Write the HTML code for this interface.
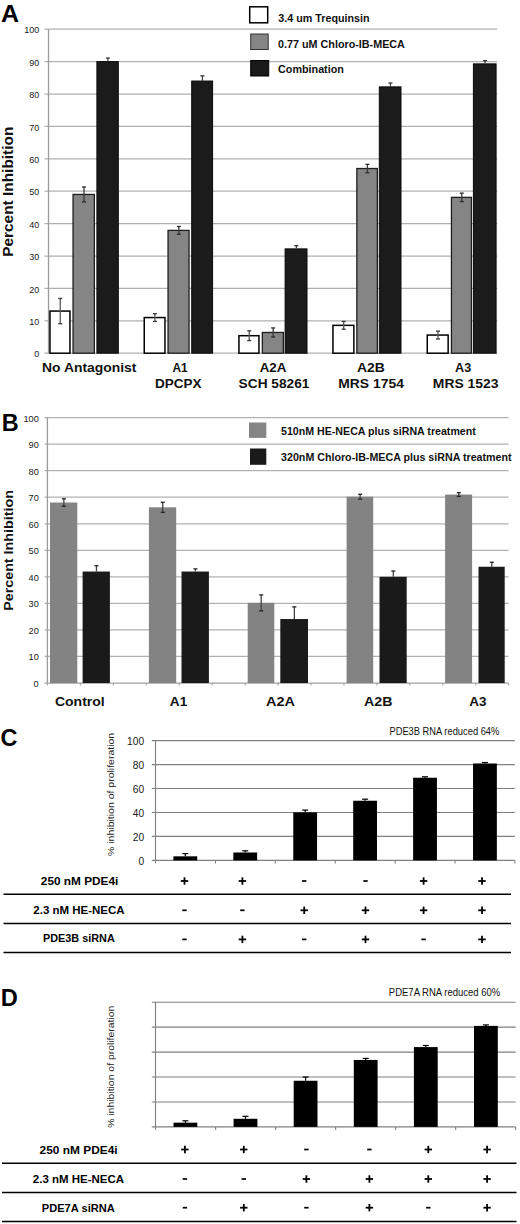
<!DOCTYPE html>
<html><head><meta charset="utf-8"><style>
html,body{margin:0;padding:0;background:#fff;}
body{width:520px;height:1224px;overflow:hidden;}
svg{display:block;font-family:"Liberation Sans", sans-serif;}
</style></head><body>
<svg width="520" height="1224" viewBox="0 0 520 1224">
<rect width="520" height="1224" fill="#fff"/>
<text x="0.98" y="21.60" font-size="24.2" font-weight="bold" text-anchor="start" fill="#000" textLength="18.08" lengthAdjust="spacingAndGlyphs">A</text>
<line x1="44.50" y1="353.20" x2="497.20" y2="353.20" stroke="#b0b0b0" stroke-width="1.25"/>
<text x="34.35" y="357.30" font-size="9.7" font-weight="normal" text-anchor="start" fill="#222" textLength="5.01" lengthAdjust="spacingAndGlyphs">0</text>
<line x1="44.50" y1="320.80" x2="497.20" y2="320.80" stroke="#b0b0b0" stroke-width="1.25"/>
<text x="29.34" y="324.90" font-size="9.7" font-weight="normal" text-anchor="start" fill="#222" textLength="10.01" lengthAdjust="spacingAndGlyphs">10</text>
<line x1="44.50" y1="288.40" x2="497.20" y2="288.40" stroke="#b0b0b0" stroke-width="1.25"/>
<text x="29.34" y="292.50" font-size="9.7" font-weight="normal" text-anchor="start" fill="#222" textLength="10.01" lengthAdjust="spacingAndGlyphs">20</text>
<line x1="44.50" y1="256.00" x2="497.20" y2="256.00" stroke="#b0b0b0" stroke-width="1.25"/>
<text x="29.34" y="260.10" font-size="9.7" font-weight="normal" text-anchor="start" fill="#222" textLength="10.01" lengthAdjust="spacingAndGlyphs">30</text>
<line x1="44.50" y1="223.60" x2="497.20" y2="223.60" stroke="#b0b0b0" stroke-width="1.25"/>
<text x="29.34" y="227.70" font-size="9.7" font-weight="normal" text-anchor="start" fill="#222" textLength="10.01" lengthAdjust="spacingAndGlyphs">40</text>
<line x1="44.50" y1="191.20" x2="497.20" y2="191.20" stroke="#b0b0b0" stroke-width="1.25"/>
<text x="29.34" y="195.30" font-size="9.7" font-weight="normal" text-anchor="start" fill="#222" textLength="10.01" lengthAdjust="spacingAndGlyphs">50</text>
<line x1="44.50" y1="158.80" x2="497.20" y2="158.80" stroke="#b0b0b0" stroke-width="1.25"/>
<text x="29.34" y="162.90" font-size="9.7" font-weight="normal" text-anchor="start" fill="#222" textLength="10.01" lengthAdjust="spacingAndGlyphs">60</text>
<line x1="44.50" y1="126.40" x2="497.20" y2="126.40" stroke="#b0b0b0" stroke-width="1.25"/>
<text x="29.34" y="130.50" font-size="9.7" font-weight="normal" text-anchor="start" fill="#222" textLength="10.01" lengthAdjust="spacingAndGlyphs">70</text>
<line x1="44.50" y1="94.00" x2="497.20" y2="94.00" stroke="#b0b0b0" stroke-width="1.25"/>
<text x="29.34" y="98.10" font-size="9.7" font-weight="normal" text-anchor="start" fill="#222" textLength="10.01" lengthAdjust="spacingAndGlyphs">80</text>
<line x1="44.50" y1="61.60" x2="497.20" y2="61.60" stroke="#b0b0b0" stroke-width="1.25"/>
<text x="29.34" y="65.70" font-size="9.7" font-weight="normal" text-anchor="start" fill="#222" textLength="10.01" lengthAdjust="spacingAndGlyphs">90</text>
<line x1="44.50" y1="29.20" x2="497.20" y2="29.20" stroke="#b0b0b0" stroke-width="1.25"/>
<text x="24.34" y="33.30" font-size="9.7" font-weight="normal" text-anchor="start" fill="#222" textLength="15.02" lengthAdjust="spacingAndGlyphs">100</text>
<line x1="48.50" y1="29.20" x2="48.50" y2="353.20" stroke="#9c9c9c" stroke-width="1.3"/>
<rect x="249.70" y="6.80" width="18.00" height="16.00" fill="#fff" stroke="#000" stroke-width="1.5"/>
<rect x="250.70" y="34.00" width="17.50" height="15.50" fill="#858585" stroke="#333" stroke-width="1"/>
<rect x="250.70" y="60.50" width="18.00" height="15.50" fill="#1a1a1a" stroke="#000" stroke-width="1"/>
<text x="278.26" y="21.80" font-size="10.3" font-weight="bold" text-anchor="start" fill="#111" textLength="91.31" lengthAdjust="spacingAndGlyphs">3.4 um Trequinsin</text>
<text x="278.07" y="48.10" font-size="10.3" font-weight="bold" text-anchor="start" fill="#111" textLength="126.81" lengthAdjust="spacingAndGlyphs">0.77 uM Chloro-IB-MECA</text>
<text x="278.06" y="72.90" font-size="10.3" font-weight="bold" text-anchor="start" fill="#111" textLength="65.81" lengthAdjust="spacingAndGlyphs">Combination</text>
<rect x="49.95" y="311.08" width="20.00" height="42.12" fill="#fff" stroke="#000" stroke-width="1.5"/>
<rect x="73.05" y="194.44" width="21.30" height="158.76" fill="#858585" stroke="#1e1e1e" stroke-width="1.3"/>
<rect x="96.90" y="61.60" width="21.40" height="291.60" fill="#1b1b1b" stroke="#0a0a0a" stroke-width="1.0"/>
<line x1="60.25" y1="298.44" x2="60.25" y2="323.72" stroke="#5a5a5a" stroke-width="1.3"/>
<line x1="58.25" y1="298.44" x2="62.25" y2="298.44" stroke="#333" stroke-width="1.3"/>
<line x1="58.25" y1="323.72" x2="62.25" y2="323.72" stroke="#333" stroke-width="1.3"/>
<line x1="84.00" y1="186.99" x2="84.00" y2="201.89" stroke="#3a3a3a" stroke-width="1.3"/>
<line x1="82.00" y1="186.99" x2="86.00" y2="186.99" stroke="#2a2a2a" stroke-width="1.3"/>
<line x1="82.00" y1="201.89" x2="86.00" y2="201.89" stroke="#2a2a2a" stroke-width="1.3"/>
<line x1="107.90" y1="58.04" x2="107.90" y2="61.60" stroke="#444" stroke-width="1.3"/>
<line x1="105.90" y1="58.04" x2="109.90" y2="58.04" stroke="#333" stroke-width="1.3"/>
<rect x="144.25" y="317.56" width="20.70" height="35.64" fill="#fff" stroke="#000" stroke-width="1.5"/>
<rect x="168.05" y="230.40" width="21.00" height="122.80" fill="#858585" stroke="#1e1e1e" stroke-width="1.3"/>
<rect x="191.70" y="81.04" width="20.90" height="272.16" fill="#1b1b1b" stroke="#0a0a0a" stroke-width="1.0"/>
<line x1="154.90" y1="313.67" x2="154.90" y2="321.45" stroke="#5a5a5a" stroke-width="1.3"/>
<line x1="152.90" y1="313.67" x2="156.90" y2="313.67" stroke="#333" stroke-width="1.3"/>
<line x1="152.90" y1="321.45" x2="156.90" y2="321.45" stroke="#333" stroke-width="1.3"/>
<line x1="178.85" y1="226.52" x2="178.85" y2="234.29" stroke="#3a3a3a" stroke-width="1.3"/>
<line x1="176.85" y1="226.52" x2="180.85" y2="226.52" stroke="#2a2a2a" stroke-width="1.3"/>
<line x1="176.85" y1="234.29" x2="180.85" y2="234.29" stroke="#2a2a2a" stroke-width="1.3"/>
<line x1="202.45" y1="75.86" x2="202.45" y2="81.04" stroke="#444" stroke-width="1.3"/>
<line x1="200.45" y1="75.86" x2="204.45" y2="75.86" stroke="#333" stroke-width="1.3"/>
<rect x="238.95" y="335.70" width="20.00" height="17.50" fill="#fff" stroke="#000" stroke-width="1.5"/>
<rect x="262.35" y="332.46" width="21.00" height="20.74" fill="#858585" stroke="#1e1e1e" stroke-width="1.3"/>
<rect x="285.10" y="248.87" width="21.90" height="104.33" fill="#1b1b1b" stroke="#0a0a0a" stroke-width="1.0"/>
<line x1="249.25" y1="330.84" x2="249.25" y2="340.56" stroke="#5a5a5a" stroke-width="1.3"/>
<line x1="247.25" y1="330.84" x2="251.25" y2="330.84" stroke="#333" stroke-width="1.3"/>
<line x1="247.25" y1="340.56" x2="251.25" y2="340.56" stroke="#333" stroke-width="1.3"/>
<line x1="273.15" y1="327.93" x2="273.15" y2="337.00" stroke="#3a3a3a" stroke-width="1.3"/>
<line x1="271.15" y1="327.93" x2="275.15" y2="327.93" stroke="#2a2a2a" stroke-width="1.3"/>
<line x1="271.15" y1="337.00" x2="275.15" y2="337.00" stroke="#2a2a2a" stroke-width="1.3"/>
<line x1="296.35" y1="245.63" x2="296.35" y2="248.87" stroke="#444" stroke-width="1.3"/>
<line x1="294.35" y1="245.63" x2="298.35" y2="245.63" stroke="#333" stroke-width="1.3"/>
<rect x="332.95" y="325.34" width="20.90" height="27.86" fill="#fff" stroke="#000" stroke-width="1.5"/>
<rect x="356.85" y="168.52" width="20.50" height="184.68" fill="#858585" stroke="#1e1e1e" stroke-width="1.3"/>
<rect x="379.30" y="86.87" width="21.70" height="266.33" fill="#1b1b1b" stroke="#0a0a0a" stroke-width="1.0"/>
<line x1="343.70" y1="321.45" x2="343.70" y2="329.22" stroke="#5a5a5a" stroke-width="1.3"/>
<line x1="341.70" y1="321.45" x2="345.70" y2="321.45" stroke="#333" stroke-width="1.3"/>
<line x1="341.70" y1="329.22" x2="345.70" y2="329.22" stroke="#333" stroke-width="1.3"/>
<line x1="367.40" y1="164.31" x2="367.40" y2="172.73" stroke="#3a3a3a" stroke-width="1.3"/>
<line x1="365.40" y1="164.31" x2="369.40" y2="164.31" stroke="#2a2a2a" stroke-width="1.3"/>
<line x1="365.40" y1="172.73" x2="369.40" y2="172.73" stroke="#2a2a2a" stroke-width="1.3"/>
<line x1="390.45" y1="82.98" x2="390.45" y2="86.87" stroke="#444" stroke-width="1.3"/>
<line x1="388.45" y1="82.98" x2="392.45" y2="82.98" stroke="#333" stroke-width="1.3"/>
<rect x="427.25" y="335.06" width="20.90" height="18.14" fill="#fff" stroke="#000" stroke-width="1.5"/>
<rect x="451.45" y="197.36" width="20.00" height="155.84" fill="#858585" stroke="#1e1e1e" stroke-width="1.3"/>
<rect x="473.40" y="63.87" width="22.70" height="289.33" fill="#1b1b1b" stroke="#0a0a0a" stroke-width="1.0"/>
<line x1="438.00" y1="331.17" x2="438.00" y2="338.94" stroke="#5a5a5a" stroke-width="1.3"/>
<line x1="436.00" y1="331.17" x2="440.00" y2="331.17" stroke="#333" stroke-width="1.3"/>
<line x1="436.00" y1="338.94" x2="440.00" y2="338.94" stroke="#333" stroke-width="1.3"/>
<line x1="461.75" y1="193.14" x2="461.75" y2="201.57" stroke="#3a3a3a" stroke-width="1.3"/>
<line x1="459.75" y1="193.14" x2="463.75" y2="193.14" stroke="#2a2a2a" stroke-width="1.3"/>
<line x1="459.75" y1="201.57" x2="463.75" y2="201.57" stroke="#2a2a2a" stroke-width="1.3"/>
<line x1="485.05" y1="60.63" x2="485.05" y2="63.87" stroke="#444" stroke-width="1.3"/>
<line x1="483.05" y1="60.63" x2="487.05" y2="60.63" stroke="#333" stroke-width="1.3"/>
<text x="42.08" y="372.00" font-size="13.2" font-weight="bold" text-anchor="start" fill="#111" textLength="94.34" lengthAdjust="spacingAndGlyphs">No Antagonist</text>
<text x="172.40" y="372.00" font-size="13.2" font-weight="bold" text-anchor="start" fill="#111" textLength="15.23" lengthAdjust="spacingAndGlyphs">A1</text>
<text x="155.10" y="388.00" font-size="13.2" font-weight="bold" text-anchor="start" fill="#111" textLength="46.52" lengthAdjust="spacingAndGlyphs">DPCPX</text>
<text x="259.67" y="372.00" font-size="13.2" font-weight="bold" text-anchor="start" fill="#111" textLength="26.68" lengthAdjust="spacingAndGlyphs">A2A</text>
<text x="238.61" y="388.00" font-size="13.2" font-weight="bold" text-anchor="start" fill="#111" textLength="70.78" lengthAdjust="spacingAndGlyphs">SCH 58261</text>
<text x="356.95" y="372.00" font-size="13.2" font-weight="bold" text-anchor="start" fill="#111" textLength="27.88" lengthAdjust="spacingAndGlyphs">A2B</text>
<text x="338.27" y="388.00" font-size="13.2" font-weight="bold" text-anchor="start" fill="#111" textLength="65.60" lengthAdjust="spacingAndGlyphs">MRS 1754</text>
<text x="455.08" y="372.00" font-size="13.2" font-weight="bold" text-anchor="start" fill="#111" textLength="16.17" lengthAdjust="spacingAndGlyphs">A3</text>
<text x="432.87" y="388.00" font-size="13.2" font-weight="bold" text-anchor="start" fill="#111" textLength="65.63" lengthAdjust="spacingAndGlyphs">MRS 1523</text>
<text transform="rotate(-90)" x="-256.83" y="13.30" font-size="15.0" font-weight="bold" fill="#111" textLength="130.19" lengthAdjust="spacingAndGlyphs">Percent Inhibition</text>
<text x="1.63" y="431.40" font-size="24.2" font-weight="bold" text-anchor="start" fill="#000" textLength="16.93" lengthAdjust="spacingAndGlyphs">B</text>
<line x1="44.50" y1="683.00" x2="508.50" y2="683.00" stroke="#a0a0a0" stroke-width="1.25"/>
<text x="33.64" y="686.90" font-size="9.0" font-weight="normal" text-anchor="start" fill="#222" textLength="5.12" lengthAdjust="spacingAndGlyphs">0</text>
<line x1="44.50" y1="656.46" x2="508.50" y2="656.46" stroke="#b2b2b2" stroke-width="1.25"/>
<text x="28.53" y="660.36" font-size="9.0" font-weight="normal" text-anchor="start" fill="#222" textLength="10.23" lengthAdjust="spacingAndGlyphs">10</text>
<line x1="44.50" y1="629.92" x2="508.50" y2="629.92" stroke="#b2b2b2" stroke-width="1.25"/>
<text x="28.53" y="633.82" font-size="9.0" font-weight="normal" text-anchor="start" fill="#222" textLength="10.23" lengthAdjust="spacingAndGlyphs">20</text>
<line x1="44.50" y1="603.38" x2="508.50" y2="603.38" stroke="#b2b2b2" stroke-width="1.25"/>
<text x="28.53" y="607.28" font-size="9.0" font-weight="normal" text-anchor="start" fill="#222" textLength="10.23" lengthAdjust="spacingAndGlyphs">30</text>
<line x1="44.50" y1="576.84" x2="508.50" y2="576.84" stroke="#b2b2b2" stroke-width="1.25"/>
<text x="28.53" y="580.74" font-size="9.0" font-weight="normal" text-anchor="start" fill="#222" textLength="10.23" lengthAdjust="spacingAndGlyphs">40</text>
<line x1="44.50" y1="550.30" x2="508.50" y2="550.30" stroke="#b2b2b2" stroke-width="1.25"/>
<text x="28.53" y="554.20" font-size="9.0" font-weight="normal" text-anchor="start" fill="#222" textLength="10.23" lengthAdjust="spacingAndGlyphs">50</text>
<line x1="44.50" y1="523.76" x2="508.50" y2="523.76" stroke="#b2b2b2" stroke-width="1.25"/>
<text x="28.53" y="527.66" font-size="9.0" font-weight="normal" text-anchor="start" fill="#222" textLength="10.23" lengthAdjust="spacingAndGlyphs">60</text>
<line x1="44.50" y1="497.22" x2="508.50" y2="497.22" stroke="#b2b2b2" stroke-width="1.25"/>
<text x="28.53" y="501.12" font-size="9.0" font-weight="normal" text-anchor="start" fill="#222" textLength="10.23" lengthAdjust="spacingAndGlyphs">70</text>
<line x1="44.50" y1="470.68" x2="508.50" y2="470.68" stroke="#b2b2b2" stroke-width="1.25"/>
<text x="28.53" y="474.58" font-size="9.0" font-weight="normal" text-anchor="start" fill="#222" textLength="10.23" lengthAdjust="spacingAndGlyphs">80</text>
<line x1="44.50" y1="444.14" x2="508.50" y2="444.14" stroke="#b2b2b2" stroke-width="1.25"/>
<text x="28.53" y="448.04" font-size="9.0" font-weight="normal" text-anchor="start" fill="#222" textLength="10.23" lengthAdjust="spacingAndGlyphs">90</text>
<line x1="44.50" y1="417.60" x2="508.50" y2="417.60" stroke="#b2b2b2" stroke-width="1.25"/>
<text x="23.41" y="421.50" font-size="9.0" font-weight="normal" text-anchor="start" fill="#222" textLength="15.35" lengthAdjust="spacingAndGlyphs">100</text>
<line x1="47.40" y1="417.60" x2="47.40" y2="683.00" stroke="#9c9c9c" stroke-width="1.3"/>
<rect x="249.00" y="422.50" width="17.30" height="15.40" fill="#858585"/>
<rect x="250.00" y="448.50" width="16.30" height="16.30" fill="#1a1a1a"/>
<text x="280.97" y="435.00" font-size="10" font-weight="bold" text-anchor="start" fill="#111" textLength="194.86" lengthAdjust="spacingAndGlyphs">510nM HE-NECA plus siRNA treatment</text>
<text x="281.06" y="460.60" font-size="10" font-weight="bold" text-anchor="start" fill="#111" textLength="230.57" lengthAdjust="spacingAndGlyphs">320nM Chloro-IB-MECA plus siRNA treatment</text>
<rect x="50.00" y="502.53" width="27.30" height="180.47" fill="#838383"/>
<rect x="82.60" y="571.53" width="27.30" height="111.47" fill="#1a1a1a"/>
<line x1="63.85" y1="498.81" x2="63.85" y2="506.24" stroke="#444" stroke-width="1.3"/>
<line x1="61.85" y1="498.81" x2="65.85" y2="498.81" stroke="#222" stroke-width="1.3"/>
<line x1="61.85" y1="506.24" x2="65.85" y2="506.24" stroke="#222" stroke-width="1.3"/>
<line x1="96.45" y1="565.69" x2="96.45" y2="571.53" stroke="#444" stroke-width="1.3"/>
<line x1="94.45" y1="565.69" x2="98.45" y2="565.69" stroke="#222" stroke-width="1.3"/>
<rect x="148.90" y="507.31" width="27.30" height="175.69" fill="#838383"/>
<rect x="181.50" y="571.53" width="27.40" height="111.47" fill="#1a1a1a"/>
<line x1="162.75" y1="502.26" x2="162.75" y2="512.35" stroke="#444" stroke-width="1.3"/>
<line x1="160.75" y1="502.26" x2="164.75" y2="502.26" stroke="#222" stroke-width="1.3"/>
<line x1="160.75" y1="512.35" x2="164.75" y2="512.35" stroke="#222" stroke-width="1.3"/>
<line x1="195.40" y1="568.88" x2="195.40" y2="571.53" stroke="#444" stroke-width="1.3"/>
<line x1="193.40" y1="568.88" x2="197.40" y2="568.88" stroke="#222" stroke-width="1.3"/>
<rect x="247.70" y="602.85" width="26.60" height="80.15" fill="#838383"/>
<rect x="280.30" y="619.04" width="27.70" height="63.96" fill="#1a1a1a"/>
<line x1="261.20" y1="594.89" x2="261.20" y2="610.81" stroke="#444" stroke-width="1.3"/>
<line x1="259.20" y1="594.89" x2="263.20" y2="594.89" stroke="#222" stroke-width="1.3"/>
<line x1="259.20" y1="610.81" x2="263.20" y2="610.81" stroke="#222" stroke-width="1.3"/>
<line x1="294.35" y1="606.83" x2="294.35" y2="619.04" stroke="#444" stroke-width="1.3"/>
<line x1="292.35" y1="606.83" x2="296.35" y2="606.83" stroke="#222" stroke-width="1.3"/>
<rect x="346.60" y="496.69" width="26.60" height="186.31" fill="#838383"/>
<rect x="379.50" y="576.84" width="27.20" height="106.16" fill="#1a1a1a"/>
<line x1="360.10" y1="494.30" x2="360.10" y2="499.08" stroke="#444" stroke-width="1.3"/>
<line x1="358.10" y1="494.30" x2="362.10" y2="494.30" stroke="#222" stroke-width="1.3"/>
<line x1="358.10" y1="499.08" x2="362.10" y2="499.08" stroke="#222" stroke-width="1.3"/>
<line x1="393.30" y1="571.00" x2="393.30" y2="576.84" stroke="#444" stroke-width="1.3"/>
<line x1="391.30" y1="571.00" x2="395.30" y2="571.00" stroke="#222" stroke-width="1.3"/>
<rect x="445.10" y="494.57" width="27.00" height="188.43" fill="#838383"/>
<rect x="478.50" y="566.75" width="26.20" height="116.25" fill="#1a1a1a"/>
<line x1="458.80" y1="492.71" x2="458.80" y2="496.42" stroke="#444" stroke-width="1.3"/>
<line x1="456.80" y1="492.71" x2="460.80" y2="492.71" stroke="#222" stroke-width="1.3"/>
<line x1="456.80" y1="496.42" x2="460.80" y2="496.42" stroke="#222" stroke-width="1.3"/>
<line x1="491.80" y1="562.24" x2="491.80" y2="566.75" stroke="#444" stroke-width="1.3"/>
<line x1="489.80" y1="562.24" x2="493.80" y2="562.24" stroke="#222" stroke-width="1.3"/>
<line x1="47.40" y1="683.00" x2="47.40" y2="685.50" stroke="#9c9c9c" stroke-width="1"/>
<line x1="80.35" y1="683.00" x2="80.35" y2="685.50" stroke="#9c9c9c" stroke-width="1"/>
<line x1="113.30" y1="683.00" x2="113.30" y2="685.50" stroke="#9c9c9c" stroke-width="1"/>
<line x1="146.25" y1="683.00" x2="146.25" y2="685.50" stroke="#9c9c9c" stroke-width="1"/>
<line x1="179.20" y1="683.00" x2="179.20" y2="685.50" stroke="#9c9c9c" stroke-width="1"/>
<line x1="212.15" y1="683.00" x2="212.15" y2="685.50" stroke="#9c9c9c" stroke-width="1"/>
<line x1="245.10" y1="683.00" x2="245.10" y2="685.50" stroke="#9c9c9c" stroke-width="1"/>
<line x1="278.05" y1="683.00" x2="278.05" y2="685.50" stroke="#9c9c9c" stroke-width="1"/>
<line x1="311.00" y1="683.00" x2="311.00" y2="685.50" stroke="#9c9c9c" stroke-width="1"/>
<line x1="343.95" y1="683.00" x2="343.95" y2="685.50" stroke="#9c9c9c" stroke-width="1"/>
<line x1="376.90" y1="683.00" x2="376.90" y2="685.50" stroke="#9c9c9c" stroke-width="1"/>
<line x1="409.85" y1="683.00" x2="409.85" y2="685.50" stroke="#9c9c9c" stroke-width="1"/>
<line x1="442.80" y1="683.00" x2="442.80" y2="685.50" stroke="#9c9c9c" stroke-width="1"/>
<line x1="475.75" y1="683.00" x2="475.75" y2="685.50" stroke="#9c9c9c" stroke-width="1"/>
<line x1="508.70" y1="683.00" x2="508.70" y2="685.50" stroke="#9c9c9c" stroke-width="1"/>
<text x="54.93" y="705.70" font-size="13.2" font-weight="bold" text-anchor="start" fill="#111" textLength="49.82" lengthAdjust="spacingAndGlyphs">Control</text>
<text x="169.86" y="705.70" font-size="13.2" font-weight="bold" text-anchor="start" fill="#111" textLength="17.42" lengthAdjust="spacingAndGlyphs">A1</text>
<text x="266.04" y="705.70" font-size="13.2" font-weight="bold" text-anchor="start" fill="#111" textLength="28.94" lengthAdjust="spacingAndGlyphs">A2A</text>
<text x="364.05" y="705.70" font-size="13.2" font-weight="bold" text-anchor="start" fill="#111" textLength="28.40" lengthAdjust="spacingAndGlyphs">A2B</text>
<text x="469.36" y="705.70" font-size="13.2" font-weight="bold" text-anchor="start" fill="#111" textLength="17.22" lengthAdjust="spacingAndGlyphs">A3</text>
<text transform="rotate(-90)" x="-610.86" y="13.10" font-size="13.6" font-weight="bold" fill="#111" textLength="120.84" lengthAdjust="spacingAndGlyphs">Percent Inhibition</text>
<line x1="151.80" y1="740.60" x2="514.90" y2="740.60" stroke="#808080" stroke-width="1.15"/>
<text x="127.08" y="744.80" font-size="10.2" font-weight="normal" text-anchor="start" fill="#1a1a1a" textLength="17.02" lengthAdjust="spacingAndGlyphs">100</text>
<line x1="151.80" y1="764.56" x2="514.90" y2="764.56" stroke="#808080" stroke-width="1.15"/>
<text x="132.75" y="768.76" font-size="10.2" font-weight="normal" text-anchor="start" fill="#1a1a1a" textLength="11.35" lengthAdjust="spacingAndGlyphs">80</text>
<line x1="151.80" y1="788.52" x2="514.90" y2="788.52" stroke="#808080" stroke-width="1.15"/>
<text x="132.75" y="792.72" font-size="10.2" font-weight="normal" text-anchor="start" fill="#1a1a1a" textLength="11.35" lengthAdjust="spacingAndGlyphs">60</text>
<line x1="151.80" y1="812.48" x2="514.90" y2="812.48" stroke="#808080" stroke-width="1.15"/>
<text x="132.75" y="816.68" font-size="10.2" font-weight="normal" text-anchor="start" fill="#1a1a1a" textLength="11.35" lengthAdjust="spacingAndGlyphs">40</text>
<line x1="151.80" y1="836.44" x2="514.90" y2="836.44" stroke="#808080" stroke-width="1.15"/>
<text x="132.75" y="840.64" font-size="10.2" font-weight="normal" text-anchor="start" fill="#1a1a1a" textLength="11.35" lengthAdjust="spacingAndGlyphs">20</text>
<line x1="151.80" y1="860.40" x2="514.90" y2="860.40" stroke="#808080" stroke-width="1.15"/>
<text x="138.43" y="864.60" font-size="10.2" font-weight="normal" text-anchor="start" fill="#1a1a1a" textLength="5.67" lengthAdjust="spacingAndGlyphs">0</text>
<line x1="155.50" y1="740.60" x2="155.50" y2="863.40" stroke="#808080" stroke-width="1.15"/>
<line x1="215.48" y1="860.40" x2="215.48" y2="863.40" stroke="#808080" stroke-width="1.1"/>
<line x1="275.37" y1="860.40" x2="275.37" y2="863.40" stroke="#808080" stroke-width="1.1"/>
<line x1="335.25" y1="860.40" x2="335.25" y2="863.40" stroke="#808080" stroke-width="1.1"/>
<line x1="395.13" y1="860.40" x2="395.13" y2="863.40" stroke="#808080" stroke-width="1.1"/>
<line x1="455.02" y1="860.40" x2="455.02" y2="863.40" stroke="#808080" stroke-width="1.1"/>
<line x1="514.90" y1="860.40" x2="514.90" y2="863.40" stroke="#808080" stroke-width="1.1"/>
<rect x="173.40" y="856.33" width="23.80" height="4.07" fill="#000"/>
<line x1="185.30" y1="853.57" x2="185.30" y2="856.33" stroke="#000" stroke-width="1.2"/>
<line x1="182.30" y1="853.57" x2="188.30" y2="853.57" stroke="#000" stroke-width="1.2"/>
<rect x="233.33" y="852.49" width="23.80" height="7.91" fill="#000"/>
<line x1="245.23" y1="850.82" x2="245.23" y2="852.49" stroke="#000" stroke-width="1.2"/>
<line x1="242.23" y1="850.82" x2="248.23" y2="850.82" stroke="#000" stroke-width="1.2"/>
<rect x="293.26" y="812.36" width="23.80" height="48.04" fill="#000"/>
<line x1="305.16" y1="810.08" x2="305.16" y2="812.36" stroke="#000" stroke-width="1.2"/>
<line x1="302.16" y1="810.08" x2="308.16" y2="810.08" stroke="#000" stroke-width="1.2"/>
<rect x="353.19" y="800.74" width="23.80" height="59.66" fill="#000"/>
<line x1="365.09" y1="799.18" x2="365.09" y2="800.74" stroke="#000" stroke-width="1.2"/>
<line x1="362.09" y1="799.18" x2="368.09" y2="799.18" stroke="#000" stroke-width="1.2"/>
<rect x="413.12" y="777.74" width="23.80" height="82.66" fill="#000"/>
<line x1="425.02" y1="776.78" x2="425.02" y2="777.74" stroke="#000" stroke-width="1.2"/>
<line x1="422.02" y1="776.78" x2="428.02" y2="776.78" stroke="#000" stroke-width="1.2"/>
<rect x="473.05" y="763.48" width="23.80" height="96.92" fill="#000"/>
<line x1="484.95" y1="762.52" x2="484.95" y2="763.48" stroke="#000" stroke-width="1.2"/>
<line x1="481.95" y1="762.52" x2="487.95" y2="762.52" stroke="#000" stroke-width="1.2"/>
<text x="0.54" y="745.60" font-size="24.2" font-weight="bold" text-anchor="start" fill="#000" textLength="16.90" lengthAdjust="spacingAndGlyphs">C</text>
<text x="389.44" y="734.80" font-size="10" font-weight="normal" text-anchor="start" fill="#111" textLength="109.89" lengthAdjust="spacingAndGlyphs">PDE3B RNA reduced 64%</text>
<text transform="rotate(-90)" x="-855.97" y="113.60" font-size="9.8" font-weight="normal" fill="#222" textLength="123.16" lengthAdjust="spacingAndGlyphs">% inhibition of proliferation</text>
<line x1="151.80" y1="1002.20" x2="515.70" y2="1002.20" stroke="#808080" stroke-width="1.15"/>
<line x1="151.80" y1="1027.14" x2="515.70" y2="1027.14" stroke="#808080" stroke-width="1.15"/>
<line x1="151.80" y1="1052.08" x2="515.70" y2="1052.08" stroke="#808080" stroke-width="1.15"/>
<line x1="151.80" y1="1077.02" x2="515.70" y2="1077.02" stroke="#808080" stroke-width="1.15"/>
<line x1="151.80" y1="1101.96" x2="515.70" y2="1101.96" stroke="#808080" stroke-width="1.15"/>
<line x1="151.80" y1="1126.90" x2="515.70" y2="1126.90" stroke="#808080" stroke-width="1.15"/>
<line x1="155.50" y1="1002.20" x2="155.50" y2="1129.90" stroke="#808080" stroke-width="1.15"/>
<line x1="215.62" y1="1126.90" x2="215.62" y2="1129.90" stroke="#808080" stroke-width="1.1"/>
<line x1="275.63" y1="1126.90" x2="275.63" y2="1129.90" stroke="#808080" stroke-width="1.1"/>
<line x1="335.65" y1="1126.90" x2="335.65" y2="1129.90" stroke="#808080" stroke-width="1.1"/>
<line x1="395.67" y1="1126.90" x2="395.67" y2="1129.90" stroke="#808080" stroke-width="1.1"/>
<line x1="455.68" y1="1126.90" x2="455.68" y2="1129.90" stroke="#808080" stroke-width="1.1"/>
<line x1="515.70" y1="1126.90" x2="515.70" y2="1129.90" stroke="#808080" stroke-width="1.1"/>
<rect x="173.50" y="1122.66" width="23.80" height="4.24" fill="#000"/>
<line x1="185.40" y1="1120.79" x2="185.40" y2="1122.66" stroke="#000" stroke-width="1.2"/>
<line x1="182.40" y1="1120.79" x2="188.40" y2="1120.79" stroke="#000" stroke-width="1.2"/>
<rect x="233.60" y="1118.79" width="23.80" height="8.11" fill="#000"/>
<line x1="245.50" y1="1116.30" x2="245.50" y2="1118.79" stroke="#000" stroke-width="1.2"/>
<line x1="242.50" y1="1116.30" x2="248.50" y2="1116.30" stroke="#000" stroke-width="1.2"/>
<rect x="293.70" y="1080.76" width="23.80" height="46.14" fill="#000"/>
<line x1="305.60" y1="1077.02" x2="305.60" y2="1080.76" stroke="#000" stroke-width="1.2"/>
<line x1="302.60" y1="1077.02" x2="308.60" y2="1077.02" stroke="#000" stroke-width="1.2"/>
<rect x="353.80" y="1059.94" width="23.80" height="66.96" fill="#000"/>
<line x1="365.70" y1="1058.44" x2="365.70" y2="1059.94" stroke="#000" stroke-width="1.2"/>
<line x1="362.70" y1="1058.44" x2="368.70" y2="1058.44" stroke="#000" stroke-width="1.2"/>
<rect x="413.90" y="1047.09" width="23.80" height="79.81" fill="#000"/>
<line x1="425.80" y1="1045.47" x2="425.80" y2="1047.09" stroke="#000" stroke-width="1.2"/>
<line x1="422.80" y1="1045.47" x2="428.80" y2="1045.47" stroke="#000" stroke-width="1.2"/>
<rect x="474.00" y="1025.89" width="23.80" height="101.01" fill="#000"/>
<line x1="485.90" y1="1024.90" x2="485.90" y2="1025.89" stroke="#000" stroke-width="1.2"/>
<line x1="482.90" y1="1024.90" x2="488.90" y2="1024.90" stroke="#000" stroke-width="1.2"/>
<text x="0.82" y="1006.00" font-size="24.2" font-weight="bold" text-anchor="start" fill="#000" textLength="17.07" lengthAdjust="spacingAndGlyphs">D</text>
<text x="388.83" y="996.20" font-size="10" font-weight="normal" text-anchor="start" fill="#111" textLength="111.41" lengthAdjust="spacingAndGlyphs">PDE7A RNA reduced 60%</text>
<text transform="rotate(-90)" x="-1127.87" y="113.60" font-size="9.8" font-weight="normal" fill="#222" textLength="122.25" lengthAdjust="spacingAndGlyphs">% inhibition of proliferation</text>
<line x1="3.50" y1="894.20" x2="511.00" y2="894.20" stroke="#000" stroke-width="1.5"/>
<line x1="3.50" y1="923.50" x2="511.00" y2="923.50" stroke="#000" stroke-width="1.5"/>
<line x1="3.50" y1="952.60" x2="511.00" y2="952.60" stroke="#000" stroke-width="1.5"/>
<text x="40.84" y="884.60" font-size="11.4" font-weight="bold" text-anchor="start" fill="#000" textLength="77.50" lengthAdjust="spacingAndGlyphs">250 nM PDE4i</text>
<text x="33.35" y="913.50" font-size="11.4" font-weight="bold" text-anchor="start" fill="#000" textLength="91.20" lengthAdjust="spacingAndGlyphs">2.3 nM HE-NECA</text>
<text x="43.02" y="942.30" font-size="11.4" font-weight="bold" text-anchor="start" fill="#000" textLength="71.76" lengthAdjust="spacingAndGlyphs">PDE3B siRNA</text>
<line x1="180.80" y1="881.00" x2="188.20" y2="881.00" stroke="#000" stroke-width="1.8"/>
<line x1="184.50" y1="877.30" x2="184.50" y2="884.70" stroke="#000" stroke-width="1.8"/>
<line x1="238.70" y1="881.00" x2="246.10" y2="881.00" stroke="#000" stroke-width="1.8"/>
<line x1="242.40" y1="877.30" x2="242.40" y2="884.70" stroke="#000" stroke-width="1.8"/>
<line x1="302.00" y1="881.00" x2="306.40" y2="881.00" stroke="#000" stroke-width="1.7"/>
<line x1="363.30" y1="881.00" x2="367.70" y2="881.00" stroke="#000" stroke-width="1.7"/>
<line x1="419.90" y1="881.00" x2="427.30" y2="881.00" stroke="#000" stroke-width="1.8"/>
<line x1="423.60" y1="877.30" x2="423.60" y2="884.70" stroke="#000" stroke-width="1.8"/>
<line x1="478.30" y1="881.00" x2="485.70" y2="881.00" stroke="#000" stroke-width="1.8"/>
<line x1="482.00" y1="877.30" x2="482.00" y2="884.70" stroke="#000" stroke-width="1.8"/>
<line x1="182.30" y1="910.30" x2="186.70" y2="910.30" stroke="#000" stroke-width="1.7"/>
<line x1="240.20" y1="910.30" x2="244.60" y2="910.30" stroke="#000" stroke-width="1.7"/>
<line x1="300.50" y1="910.30" x2="307.90" y2="910.30" stroke="#000" stroke-width="1.8"/>
<line x1="304.20" y1="906.60" x2="304.20" y2="914.00" stroke="#000" stroke-width="1.8"/>
<line x1="361.80" y1="910.30" x2="369.20" y2="910.30" stroke="#000" stroke-width="1.8"/>
<line x1="365.50" y1="906.60" x2="365.50" y2="914.00" stroke="#000" stroke-width="1.8"/>
<line x1="419.90" y1="910.30" x2="427.30" y2="910.30" stroke="#000" stroke-width="1.8"/>
<line x1="423.60" y1="906.60" x2="423.60" y2="914.00" stroke="#000" stroke-width="1.8"/>
<line x1="478.30" y1="910.30" x2="485.70" y2="910.30" stroke="#000" stroke-width="1.8"/>
<line x1="482.00" y1="906.60" x2="482.00" y2="914.00" stroke="#000" stroke-width="1.8"/>
<line x1="182.30" y1="939.40" x2="186.70" y2="939.40" stroke="#000" stroke-width="1.7"/>
<line x1="238.70" y1="939.40" x2="246.10" y2="939.40" stroke="#000" stroke-width="1.8"/>
<line x1="242.40" y1="935.70" x2="242.40" y2="943.10" stroke="#000" stroke-width="1.8"/>
<line x1="302.00" y1="939.40" x2="306.40" y2="939.40" stroke="#000" stroke-width="1.7"/>
<line x1="361.80" y1="939.40" x2="369.20" y2="939.40" stroke="#000" stroke-width="1.8"/>
<line x1="365.50" y1="935.70" x2="365.50" y2="943.10" stroke="#000" stroke-width="1.8"/>
<line x1="421.40" y1="939.40" x2="425.80" y2="939.40" stroke="#000" stroke-width="1.7"/>
<line x1="478.30" y1="939.40" x2="485.70" y2="939.40" stroke="#000" stroke-width="1.8"/>
<line x1="482.00" y1="935.70" x2="482.00" y2="943.10" stroke="#000" stroke-width="1.8"/>
<line x1="2.00" y1="1163.20" x2="516.50" y2="1163.20" stroke="#000" stroke-width="1.5"/>
<line x1="2.00" y1="1192.40" x2="516.50" y2="1192.40" stroke="#000" stroke-width="1.5"/>
<line x1="2.00" y1="1221.60" x2="516.50" y2="1221.60" stroke="#000" stroke-width="1.5"/>
<text x="39.59" y="1153.80" font-size="11.4" font-weight="bold" text-anchor="start" fill="#000" textLength="78.00" lengthAdjust="spacingAndGlyphs">250 nM PDE4i</text>
<text x="32.85" y="1183.00" font-size="11.4" font-weight="bold" text-anchor="start" fill="#000" textLength="91.20" lengthAdjust="spacingAndGlyphs">2.3 nM HE-NECA</text>
<text x="41.76" y="1211.80" font-size="11.4" font-weight="bold" text-anchor="start" fill="#000" textLength="73.03" lengthAdjust="spacingAndGlyphs">PDE7A siRNA</text>
<line x1="181.20" y1="1149.50" x2="188.60" y2="1149.50" stroke="#000" stroke-width="1.8"/>
<line x1="184.90" y1="1145.80" x2="184.90" y2="1153.20" stroke="#000" stroke-width="1.8"/>
<line x1="240.10" y1="1149.50" x2="247.50" y2="1149.50" stroke="#000" stroke-width="1.8"/>
<line x1="243.80" y1="1145.80" x2="243.80" y2="1153.20" stroke="#000" stroke-width="1.8"/>
<line x1="304.20" y1="1149.50" x2="308.60" y2="1149.50" stroke="#000" stroke-width="1.7"/>
<line x1="367.20" y1="1149.50" x2="371.60" y2="1149.50" stroke="#000" stroke-width="1.7"/>
<line x1="424.60" y1="1149.50" x2="432.00" y2="1149.50" stroke="#000" stroke-width="1.8"/>
<line x1="428.30" y1="1145.80" x2="428.30" y2="1153.20" stroke="#000" stroke-width="1.8"/>
<line x1="483.40" y1="1149.50" x2="490.80" y2="1149.50" stroke="#000" stroke-width="1.8"/>
<line x1="487.10" y1="1145.80" x2="487.10" y2="1153.20" stroke="#000" stroke-width="1.8"/>
<line x1="182.70" y1="1179.00" x2="187.10" y2="1179.00" stroke="#000" stroke-width="1.7"/>
<line x1="241.60" y1="1179.00" x2="246.00" y2="1179.00" stroke="#000" stroke-width="1.7"/>
<line x1="302.70" y1="1179.00" x2="310.10" y2="1179.00" stroke="#000" stroke-width="1.8"/>
<line x1="306.40" y1="1175.30" x2="306.40" y2="1182.70" stroke="#000" stroke-width="1.8"/>
<line x1="365.70" y1="1179.00" x2="373.10" y2="1179.00" stroke="#000" stroke-width="1.8"/>
<line x1="369.40" y1="1175.30" x2="369.40" y2="1182.70" stroke="#000" stroke-width="1.8"/>
<line x1="424.60" y1="1179.00" x2="432.00" y2="1179.00" stroke="#000" stroke-width="1.8"/>
<line x1="428.30" y1="1175.30" x2="428.30" y2="1182.70" stroke="#000" stroke-width="1.8"/>
<line x1="483.40" y1="1179.00" x2="490.80" y2="1179.00" stroke="#000" stroke-width="1.8"/>
<line x1="487.10" y1="1175.30" x2="487.10" y2="1182.70" stroke="#000" stroke-width="1.8"/>
<line x1="182.70" y1="1207.70" x2="187.10" y2="1207.70" stroke="#000" stroke-width="1.7"/>
<line x1="240.10" y1="1207.70" x2="247.50" y2="1207.70" stroke="#000" stroke-width="1.8"/>
<line x1="243.80" y1="1204.00" x2="243.80" y2="1211.40" stroke="#000" stroke-width="1.8"/>
<line x1="304.20" y1="1207.70" x2="308.60" y2="1207.70" stroke="#000" stroke-width="1.7"/>
<line x1="365.70" y1="1207.70" x2="373.10" y2="1207.70" stroke="#000" stroke-width="1.8"/>
<line x1="369.40" y1="1204.00" x2="369.40" y2="1211.40" stroke="#000" stroke-width="1.8"/>
<line x1="426.10" y1="1207.70" x2="430.50" y2="1207.70" stroke="#000" stroke-width="1.7"/>
<line x1="483.40" y1="1207.70" x2="490.80" y2="1207.70" stroke="#000" stroke-width="1.8"/>
<line x1="487.10" y1="1204.00" x2="487.10" y2="1211.40" stroke="#000" stroke-width="1.8"/>
</svg>
</body></html>
